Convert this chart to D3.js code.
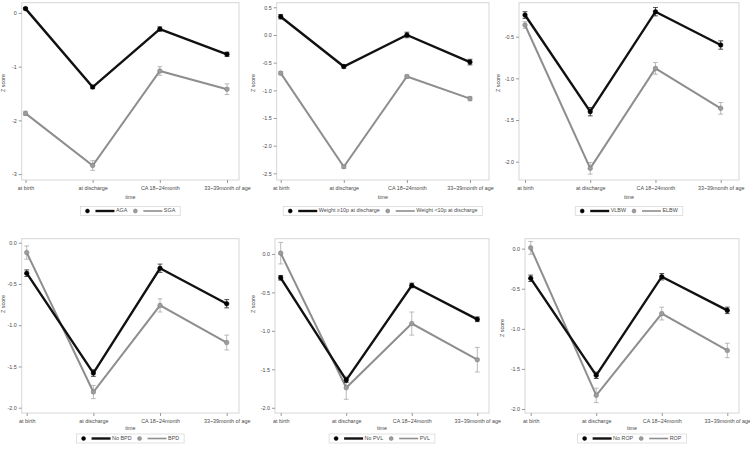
<!DOCTYPE html>
<html>
<head>
<meta charset="utf-8">
<script src="https://cdn.jsdelivr.net/npm/d3@7"></script>
<style>
  html, body { margin: 0; padding: 0; background: #fff; }
  svg { display: block; }
  text { font-family: "Liberation Sans", Arial, sans-serif; }
</style>
</head>
<body>
<svg id="chart" width="750" height="452"></svg>
<script>
// ---------- DATA ----------
const categories = ["at birth", "at discharge", "CA 18~24month", "33~39month of age"];

const panelLabels = [
  ["AGA", "SGA"],
  ["Weight \u226510p at discharge", "Weight <10p at discharge"],
  ["VLBW", "ELBW"],
  ["No BPD", "BPD"],
  ["No PVL", "PVL"],
  ["No ROP", "ROP"]
];

// first (black) series means
const seriesA = [
  [0.08, -1.38, -0.30, -0.77],
  [0.33, -0.57, 0.00, -0.49],
  [-0.24, -1.40, -0.20, -0.60],
  [-0.37, -1.58, -0.31, -0.74],
  [-0.31, -1.64, -0.41, -0.85],
  [-0.37, -1.58, -0.35, -0.77]
];
const errorsA = [
  [0.02, 0.03, 0.04, 0.04],
  [0.04, 0.03, 0.05, 0.05],
  [0.04, 0.05, 0.05, 0.05],
  [0.04, 0.04, 0.05, 0.05],
  [0.03, 0.03, 0.03, 0.03],
  [0.04, 0.04, 0.04, 0.04]
];
// second (gray) series means
const seriesB = [
  [-1.87, -2.84, -1.08, -1.42],
  [-0.69, -2.38, -0.75, -1.15],
  [-0.36, -2.08, -0.88, -1.36],
  [-0.12, -1.81, -0.76, -1.21],
  [0.01, -1.74, -0.905, -1.375],
  [0.01, -1.83, -0.81, -1.27]
];
const errorsB = [
  [0.04, 0.09, 0.08, 0.10],
  [0.03, 0.03, 0.03, 0.04],
  [0.04, 0.07, 0.07, 0.07],
  [0.08, 0.08, 0.08, 0.09],
  [0.14, 0.15, 0.15, 0.16],
  [0.08, 0.09, 0.08, 0.09]
];

// y-axis tick values and domains
const yTicks = [
  [0, -1, -2, -3],
  [0.5, 0.0, -0.5, -1.0, -1.5, -2.0, -2.5],
  [-0.5, -1.0, -1.5, -2.0],
  [0.0, -0.5, -1.0, -1.5, -2.0],
  [0.0, -0.5, -1.0, -1.5, -2.0],
  [0.0, -0.5, -1.0, -1.5, -2.0]
];
const yTickFormats = [",.0f", ".1f", ".1f", ".1f", ".1f", ".1f"];
const yDomains = [
  [-3.11, 0.19],
  [-2.62, 0.583],
  [-2.22, -0.092],
  [-2.064, 0.048],
  [-2.068, 0.198],
  [-2.05, 0.124]
];

// ---------- LAYOUT ----------
const layout = [
  { fx0: 21.7, fy0: 2.7,   fx1: 239, fy1: 180, px0: 25.5,  px1: 227,   yl: [4, 83],    timeY: 197.5, legY: 211 },
  { fx0: 276.7, fy0: 2.7,  fx1: 489, fy1: 180, px0: 280.7, px1: 470,   yl: [254, 83],  timeY: 197.5, legY: 211 },
  { fx0: 519,  fy0: 2.7,   fx1: 739, fy1: 180, px0: 525,   px1: 720.7, yl: [499, 83],  timeY: 197.5, legY: 211 },
  { fx0: 21.7, fy0: 238.7, fx1: 239, fy1: 413, px0: 26.7,  px1: 226.7, yl: [4, 304],   timeY: 428.5, legY: 438.5 },
  { fx0: 275,  fy0: 238.7, fx1: 489, fy1: 413, px0: 280.7, px1: 477.3, yl: [254, 304], timeY: 428.5, legY: 438.5 },
  { fx0: 525,  fy0: 238.7, fx1: 739, fy1: 413, px0: 530.7, px1: 727.3, yl: [503, 328], timeY: 428.5, legY: 438.5 }
];

const FS = 5.4;
const colA = "#111111", colB = "#8e8e8e";
const errColA = "#222222", errColB = "#a8a8a8";
const textCol = "#4a4a4a";

const svg = d3.select("#chart");

layout.forEach((L, i) => {
  const g = svg.append("g");
  const x = d3.scaleLinear().domain([0, categories.length - 1]).range([L.px0, L.px1]);
  const y = d3.scaleLinear().domain(yDomains[i]).range([L.fy1, L.fy0]);

  // frame
  g.append("rect")
    .attr("x", L.fx0).attr("y", L.fy0)
    .attr("width", L.fx1 - L.fx0).attr("height", L.fy1 - L.fy0)
    .attr("fill", "none").attr("stroke", "#d6d6d6").attr("stroke-width", 1);

  // y axis
  const ya = g.append("g").attr("transform", `translate(${L.fx0},0)`)
    .call(d3.axisLeft(y).tickValues(yTicks[i]).tickFormat(d3.format(yTickFormats[i])).tickSize(3).tickPadding(2));
  ya.select(".domain").remove();
  ya.selectAll(".tick line").attr("stroke", "#9a9a9a");
  ya.selectAll(".tick text").attr("fill", textCol).attr("font-size", FS)
    .text(function(d){ return d3.format(yTickFormats[i])(d).replace("\u2212", "-"); });

  // x axis
  const xa = g.append("g").attr("transform", `translate(0,${L.fy1})`)
    .call(d3.axisBottom(x).tickValues(d3.range(categories.length)).tickFormat(d => categories[d]).tickSize(3).tickPadding(3));
  xa.select(".domain").remove();
  xa.selectAll(".tick line").attr("stroke", "#9a9a9a");
  xa.selectAll(".tick text").attr("fill", textCol).attr("font-size", FS);

  // axis titles
  g.append("text").attr("x", (L.fx0 + L.fx1) / 2).attr("y", L.timeY)
    .attr("text-anchor", "middle").attr("dominant-baseline", "middle")
    .attr("font-size", FS).attr("fill", textCol).text("time");
  g.append("text").attr("transform", `translate(${L.yl[0]},${L.yl[1]}) rotate(-90)`)
    .attr("text-anchor", "middle").attr("dominant-baseline", "middle")
    .attr("font-size", FS).attr("fill", textCol).text("Z score");

  // series
  const series = [
    { vals: seriesB[i], errs: errorsB[i], col: colB, ecol: errColB, w: 2.0, mfill: "#9c9c9c", mstroke: "#7a7a7a" },
    { vals: seriesA[i], errs: errorsA[i], col: colA, ecol: errColA, w: 2.4, mfill: "#000", mstroke: "#000" }
  ];
  series.forEach(s => {
    const pts = s.vals.map((v, k) => ({ k, v, e: s.errs[k] }));
    const eb = g.append("g");
    pts.forEach(p => {
      eb.append("line").attr("x1", x(p.k)).attr("x2", x(p.k))
        .attr("y1", y(p.v - p.e)).attr("y2", y(p.v + p.e))
        .attr("stroke", s.ecol).attr("stroke-width", 0.8);
      [p.v - p.e, p.v + p.e].forEach(val => {
        eb.append("line").attr("x1", x(p.k) - 2.4).attr("x2", x(p.k) + 2.4)
          .attr("y1", y(val)).attr("y2", y(val))
          .attr("stroke", s.ecol).attr("stroke-width", 0.8);
      });
    });
    g.append("path").datum(pts)
      .attr("d", d3.line().x(d => x(d.k)).y(d => y(d.v)))
      .attr("fill", "none").attr("stroke", s.col).attr("stroke-width", s.w)
      .attr("stroke-linejoin", "miter");
    g.selectAll(null).data(pts).enter().append("circle")
      .attr("cx", d => x(d.k)).attr("cy", d => y(d.v)).attr("r", 2.3)
      .attr("fill", s.mfill).attr("stroke", s.mstroke).attr("stroke-width", 0.5);
  });

  // legend
  const lg = g.append("g");
  const items = [
    { label: panelLabels[i][0], col: colA, w: 2.4, mfill: "#000", mstroke: "#000" },
    { label: panelLabels[i][1], col: colB, w: 1.6, mfill: "#9c9c9c", mstroke: "#7a7a7a" }
  ];
  let cx = 0;
  items.forEach((it, j) => {
    if (j > 0) cx += 6;
    lg.append("circle").attr("cx", cx + 2).attr("cy", L.legY).attr("r", 2)
      .attr("fill", it.mfill).attr("stroke", it.mstroke).attr("stroke-width", 0.5);
    cx += 10;
    lg.append("line").attr("x1", cx).attr("x2", cx + 19).attr("y1", L.legY).attr("y2", L.legY)
      .attr("stroke", it.col).attr("stroke-width", it.w);
    cx += 20.5;
    const t = lg.append("text").attr("x", cx).attr("y", L.legY)
      .attr("dominant-baseline", "middle").attr("font-size", FS).attr("fill", textCol).text(it.label);
    cx += t.node().getComputedTextLength();
  });
  const total = cx;
  const left = (L.fx0 + L.fx1) / 2 - total / 2;
  lg.attr("transform", `translate(${left},0)`);
  lg.insert("rect", ":first-child").attr("x", -5).attr("y", L.legY - 4.5)
    .attr("width", total + 10).attr("height", 9)
    .attr("fill", "none").attr("stroke", "#d9d9d9").attr("stroke-width", 0.8);
});
</script>
</body>
</html>
